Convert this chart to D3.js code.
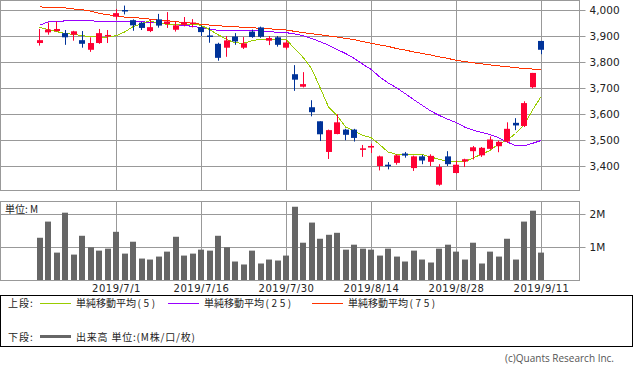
<!DOCTYPE html>
<html>
<head>
<meta charset="utf-8">
<script src="https://cdn.jsdelivr.net/npm/d3@7"></script>
<style>
body { margin: 0; background: #fff; }
svg { display: block; }
.grid line { stroke: #999; }
.grid path { display: none; }
.tick text { fill: #222; }
</style>
</head>
<body>
<div id="chart-area"></div>
<script>
/*
*    candle chart with volume
*/

var dates = ["2019/6/18","2019/6/19","2019/6/20","2019/6/21","2019/6/24","2019/6/25","2019/6/26","2019/6/27","2019/6/28",
"2019/7/1","2019/7/2","2019/7/3","2019/7/4","2019/7/5","2019/7/8","2019/7/9","2019/7/10","2019/7/11","2019/7/12",
"2019/7/16","2019/7/17","2019/7/18","2019/7/19","2019/7/22","2019/7/23","2019/7/24","2019/7/25","2019/7/26","2019/7/29",
"2019/7/30","2019/7/31","2019/8/1","2019/8/2","2019/8/5","2019/8/6","2019/8/7","2019/8/8","2019/8/9","2019/8/13",
"2019/8/14","2019/8/15","2019/8/16","2019/8/19","2019/8/20","2019/8/21","2019/8/22","2019/8/23","2019/8/26","2019/8/27",
"2019/8/28","2019/8/29","2019/8/30","2019/9/2","2019/9/3","2019/9/4","2019/9/5","2019/9/6","2019/9/9","2019/9/10","2019/9/11"]

var opens = [3873,3914,3919,3911,3905,3884,3847,3873,3900,3974,4000,3961,3951,3919,3964,3946,3924,3943,3947,3934,
3902,3870,3855,3898,3855,3917,3933,3882,3895,3855,3753,3705,3626,3572,3454,3523,3540,3540,3462,3471,
3400,3405,3412,3448,3392,3437,3416,3328,3437,3373,3417,3457,3441,3466,3476,3494,3566,3554,3703,3881]
var highs = [3927,3952,3956,3923,3920,3919,3895,3927,3923,4004,4017,3964,3954,3964,3985,3992,3956,3973,3965,3941,
3933,3874,3900,3911,3896,3925,3936,3900,3900,3884,3788,3761,3653,3572,3540,3599,3543,3543,3481,3486,
3440,3415,3445,3454,3440,3443,3445,3407,3457,3421,3428,3477,3473,3514,3498,3568,3584,3649,3758,3881]
var lows = [3863,3905,3917,3866,3882,3855,3839,3870,3873,3963,3983,3920,3923,3915,3932,3931,3917,3937,3933,3900,
3874,3805,3820,3866,3850,3893,3893,3865,3859,3848,3689,3702,3591,3496,3427,3522,3499,3494,3435,3450,
3383,3387,3405,3432,3381,3407,3400,3324,3400,3371,3396,3425,3435,3463,3453,3489,3538,3550,3699,3830]
var closes = [3884,3925,3927,3895,3918,3870,3873,3911,3904,3988,3999,3941,3931,3934,3940,3956,3941,3954,3952,3915,
3900,3816,3883,3879,3872,3896,3897,3892,3866,3875,3732,3715,3607,3522,3538,3568,3520,3508,3468,3477,
3437,3399,3441,3440,3437,3421,3439,3396,3407,3405,3426,3472,3470,3502,3493,3543,3556,3642,3758,3847]

// volume in millions
var volumes = [1.28,1.77,0.83,2.04,0.77,1.34,0.99,0.89,0.95,1.46,0.80,1.16,0.65,0.62,0.71,0.86,1.31,0.74,0.80,0.92,
0.89,1.34,0.99,0.56,0.47,0.89,0.50,0.62,0.59,0.74,2.22,1.13,1.74,1.25,1.37,1.43,0.92,1.07,0.95,0.92,
0.74,0.95,0.71,0.56,0.89,0.62,0.53,0.95,1.07,0.86,0.62,1.13,0.50,0.86,0.71,1.25,0.62,1.77,2.10,0.83]

var ma5 = [3933,3925,3917,3910,3906,3902,3897,3896,3896,3901,3915,3936,3947,3959,3949,3945,3943,3943,3946,3941,
3925,3905,3887,3874,3872,3882,3887,3888,3888,3887,3852,3818,3775,3702,3627,3595,3550,3535,3518,3509,
3483,3454,3445,3444,3444,3444,3435,3426,3418,3416,3416,3431,3445,3460,3484,3499,3525,3557,3615,3666]
var ma25 = [3941,3954,3956,3958,3959,3960,3959,3956,3956,3956,3956,3956,3955,3952,3950,3947,3943,3941,3937,3932,
3927,3922,3920,3920,3920,3920,3919,3917,3914,3913,3908,3901,3891,3878,3865,3848,3833,3814,3792,3772,
3743,3720,3701,3679,3656,3634,3612,3595,3580,3568,3550,3538,3529,3521,3509,3493,3478,3477,3487,3498]
var ma75 = [4012,4010,4010,4008,4004,4001,3996,3987,3982,3978,3973,3972,3968,3965,3961,3959,3955,3952,3949,3945,
3942,3940,3937,3936,3933,3932,3929,3928,3925,3923,3918,3913,3909,3905,3900,3896,3891,3886,3879,3872,
3866,3860,3852,3846,3839,3833,3827,3820,3814,3807,3802,3797,3793,3789,3785,3782,3778,3775,3773,3771]

var dateTicks = ["2019/7/1","2019/7/16","2019/7/30","2019/8/14","2019/8/28","2019/9/11"]
var priceTicks = [3400,3500,3600,3700,3800,3900,4000]
var volTicks = [1,2]

var width = 633;
var height = 372;
var plotW = 579;

var upColor = "#ff0033";
var downColor = "#003399";

var svg = d3.select("#chart-area").append("svg")
.attr("width", width)
.attr("height", height)
.style("font-family", "'DejaVu Sans', sans-serif")

var x = d3.scalePoint()
.domain(dates)
.range([39.5, 541])

var y = d3.scaleLinear()
.domain([3400, 4000])
.range([166, 10])

var yVol = d3.scaleLinear()
.domain([0, 2])
.range([280, 214])

// Price panel grid

svg.append("g")
.attr("class", "grid")
.attr("transform", "translate(" + (plotW + 0.5) + ",0)")
.call(d3.axisLeft(y).tickValues(priceTicks).tickSize(plotW).tickFormat(""))

svg.append("g")
.attr("class", "grid")
.attr("transform", "translate(0,190.5)")
.call(d3.axisBottom(x).tickValues(dateTicks).tickSize(-190).tickFormat(""))

var priceAxis = svg.append("g")
.attr("class", "grid")
.attr("transform", "translate(" + (plotW + 0.5) + ",0)")
.call(d3.axisRight(y).tickValues(priceTicks).tickSize(6).tickPadding(4).tickFormat(d3.format(",")))
priceAxis.selectAll("text").attr("font-size", "10.5px").attr("font-family", "'DejaVu Sans', sans-serif")

svg.append("rect")
.attr("x", 0.5)
.attr("y", 0.5)
.attr("width", plotW)
.attr("height", 190)
.attr("fill", "none")
.attr("stroke", "#999")

// Moving averages

var maLine = function(values) {
	return d3.line()
	.x((d, i) => x(dates[i]))
	.y(d => y(d))(values)
}

var maSeries = [
	{values: ma75, color: "#ff3300"},
	{values: ma25, color: "#9900ff"},
	{values: ma5, color: "#99cc00"}
]

maSeries.forEach(s => {
	svg.append("path")
	.attr("d", maLine(s.values))
	.attr("fill", "none")
	.attr("stroke", s.color)
	.attr("stroke-width", 1)
	.attr("shape-rendering", "crispEdges")
})

// Candles

var candles = svg.append("g").selectAll("g")
.data(dates)
.enter().append("g")

candles.append("line")
.attr("x1", (d, i) => Math.floor(x(d)) + 0.5)
.attr("x2", (d, i) => Math.floor(x(d)) + 0.5)
.attr("y1", (d, i) => y(highs[i]))
.attr("y2", (d, i) => y(lows[i]))
.attr("stroke", (d, i) => closes[i] >= opens[i] ? upColor : downColor)

candles.append("rect")
.attr("x", (d, i) => Math.round(x(d) - 3))
.attr("width", 6)
.attr("y", (d, i) => y(Math.max(opens[i], closes[i])))
.attr("height", (d, i) => Math.max(1.5, Math.abs(y(opens[i]) - y(closes[i]))))
.attr("fill", (d, i) => closes[i] >= opens[i] ? upColor : downColor)

// Volume panel

svg.append("g")
.attr("class", "grid")
.attr("transform", "translate(" + (plotW + 0.5) + ",0)")
.call(d3.axisLeft(yVol).tickValues(volTicks).tickSize(plotW).tickFormat(""))

var volAxis = svg.append("g")
.attr("class", "grid")
.attr("transform", "translate(" + (plotW + 0.5) + ",0)")
.call(d3.axisRight(yVol).tickValues(volTicks).tickSize(6).tickPadding(4).tickFormat(d => d + "M"))
volAxis.selectAll("text").attr("font-size", "10.5px").attr("font-family", "'DejaVu Sans', sans-serif")

var dateAxis = svg.append("g")
.attr("class", "grid")
.attr("transform", "translate(0,280.5)")
.call(d3.axisBottom(x).tickValues(dateTicks).tickSize(-79).tickPadding(4))
dateAxis.selectAll("text")
.attr("font-size", "10px")
.attr("font-family", "'DejaVu Sans', sans-serif")
.style("letter-spacing", "0.5px")

svg.append("g").selectAll("rect")
.data(volumes)
.enter().append("rect")
.attr("x", (d, i) => Math.round(x(dates[i]) - 3))
.attr("width", 6)
.attr("y", d => yVol(d))
.attr("height", d => yVol(0) - yVol(d))
.attr("fill", "#666")

svg.append("rect")
.attr("x", 0.5)
.attr("y", 201.5)
.attr("width", plotW)
.attr("height", 79)
.attr("fill", "none")
.attr("stroke", "#999")

svg.append("text")
.attr("x", 5)
.attr("y", 209)
.attr("dy", "0.35em")
.attr("font-size", "10px")
.attr("font-family", "'Noto Sans CJK JP', sans-serif")
.style("fill", "#222")
.text("単位: M")

// Legend

var legend = svg.append("g")

legend.append("rect")
.attr("x", 0.5)
.attr("y", 295.5)
.attr("width", 632)
.attr("height", 51)
.attr("fill", "none")
.attr("stroke", "#000")

var legendItems = [
	{label: "単純移動平均", n: "(5)", color: "#99cc00", x: 40},
	{label: "単純移動平均", n: "(25)", color: "#9900ff", x: 168},
	{label: "単純移動平均", n: "(75)", color: "#ff3300", x: 312}
]

var legendText = function(xPos, yPos, str) {
	return legend.append("text")
	.attr("x", xPos)
	.attr("y", yPos)
	.attr("dy", "0.35em")
	.attr("font-size", "10px")
	.attr("font-family", "'Noto Sans CJK JP', sans-serif")
	.style("fill", "#222")
	.text(str)
}

legendText(8, 303, "上段:").style("letter-spacing", "1px")
legendItems.forEach(item => {
	legend.append("line")
	.attr("x1", item.x)
	.attr("x2", item.x + 31)
	.attr("y1", 303.5)
	.attr("y2", 303.5)
	.attr("stroke", item.color)
	var t = legendText(item.x + 36, 303, item.label)
	t.append("tspan")
	.attr("dx", 1.5)
	.style("letter-spacing", "2.6px")
	.text(item.n)
})

legendText(8, 337, "下段:").style("letter-spacing", "1px")
legend.append("line")
.attr("x1", 40)
.attr("x2", 71)
.attr("y1", 336.5)
.attr("y2", 336.5)
.attr("stroke", "#666")
.attr("stroke-width", 3)
legendText(76, 337, "出来高 単位:(M株/口/枚)").style("letter-spacing", "0.8px")

svg.append("text")
.attr("x", 614)
.attr("y", 358)
.attr("dy", "0.35em")
.attr("text-anchor", "end")
.attr("font-size", "10px")
.attr("font-family", "'Open Sans', sans-serif")
.style("fill", "#555")
.text("(c)Quants Research Inc.")
</script>
</body>
</html>
